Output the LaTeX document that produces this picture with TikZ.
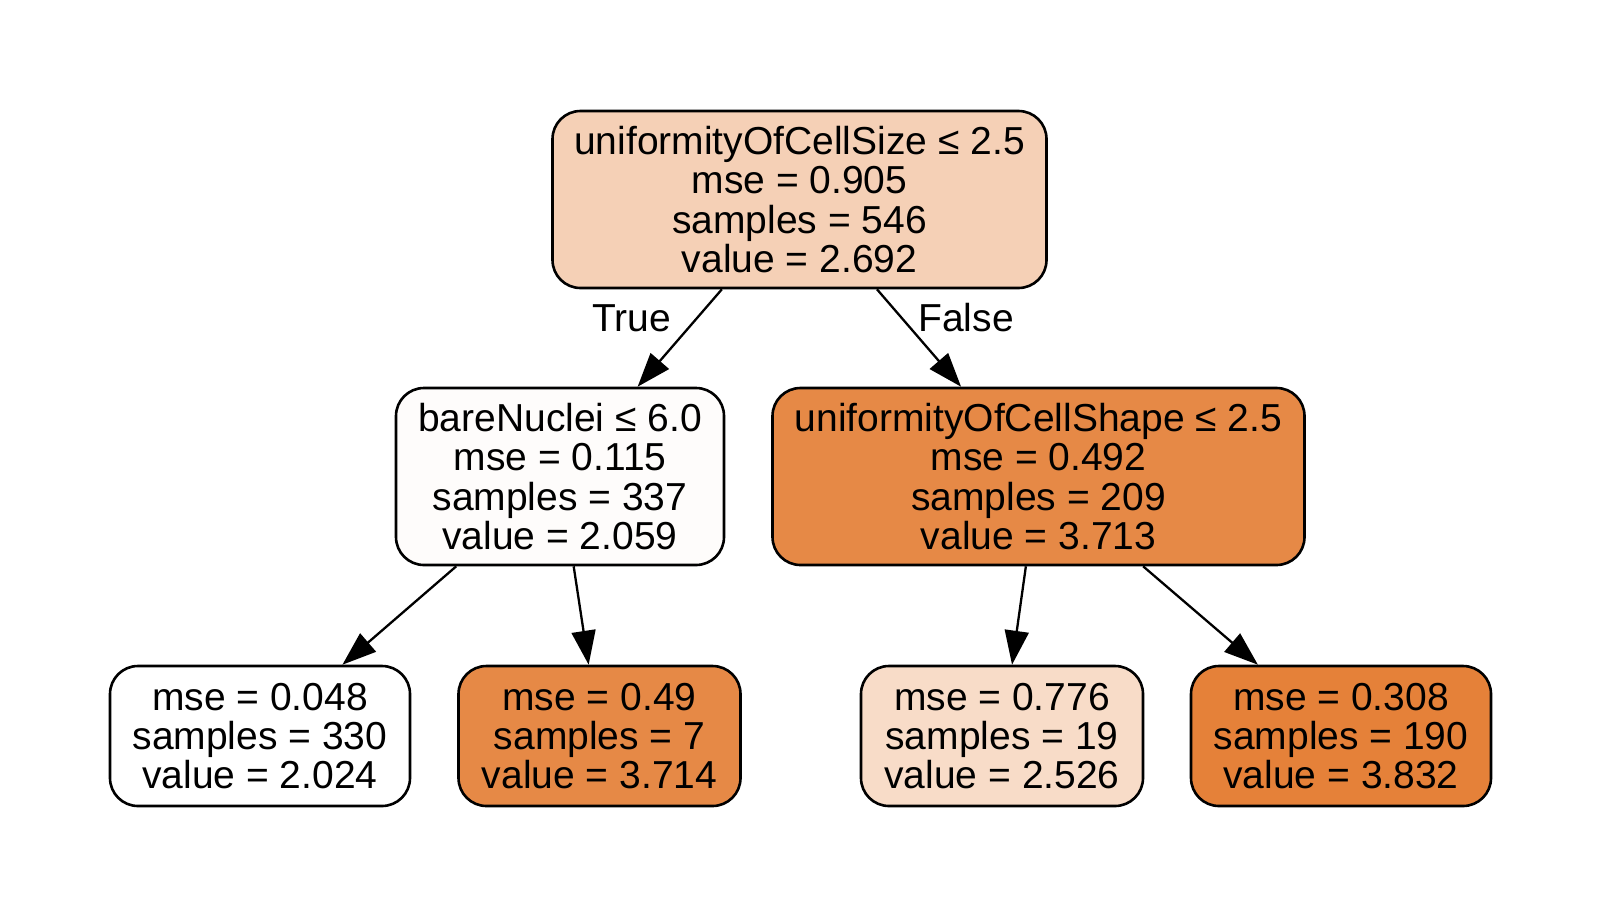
\documentclass[tikz,border=0pt]{standalone}
\usepackage{fontspec}
\setmainfont{Liberation Sans}
\usetikzlibrary{arrows.meta}
\definecolor{cRoot}{RGB}{245,208,182}
\definecolor{cBare}{RGB}{254,252,251}
\definecolor{cShape}{RGB}{230,137,70}
\definecolor{cLeafA}{RGB}{255,255,255}
\definecolor{cLeafB}{RGB}{230,137,70}
\definecolor{cLeafC}{RGB}{248,220,200}
\definecolor{cLeafD}{RGB}{229,129,57}
\tikzset{
  treebox/.style={draw=black, line width=1.3pt, rounded corners=14pt, align=center,
    inner sep=0pt, font=\fontsize{19.5}{19.6}\selectfont},
  inner4/.style={treebox, minimum height=88.5pt},
  leaf3/.style={treebox, minimum height=70pt},
  edgelbl/.style={font=\fontsize{19.5}{19.6}\selectfont, inner sep=0pt, anchor=base},
  conn/.style={draw=black, line width=1.15pt, -{Triangle[length=17pt,width=12pt]}}
}
\begin{document}
\begin{tikzpicture}[x=0.5pt,y=-0.5pt]
\useasboundingbox (0,0) rectangle (1600,917);
\fill[white] (0,0) rectangle (1600,917);
\node[inner4, fill=cRoot, minimum width=247pt] (root) at (799.5,199.5)
  {uniformityOfCellSize ≤ 2.5\\mse = 0.905\\samples = 546\\value = 2.692};
\node[inner4, fill=cBare, minimum width=164pt] (bare) at (560,476.5)
  {bareNuclei ≤ 6.0\\mse = 0.115\\samples = 337\\value = 2.059};
\node[inner4, fill=cShape, minimum width=266pt] (shape) at (1038.5,476.5)
  {uniformityOfCellShape ≤ 2.5\\mse = 0.492\\samples = 209\\value = 3.713};
\node[leaf3, fill=cLeafA, minimum width=150pt] (l1) at (260,736)
  {mse = 0.048\\samples = 330\\value = 2.024};
\node[leaf3, fill=cLeafB, minimum width=141pt] (l2) at (599.5,736)
  {mse = 0.49\\samples = 7\\value = 3.714};
\node[leaf3, fill=cLeafC, minimum width=141pt] (l3) at (1002,736)
  {mse = 0.776\\samples = 19\\value = 2.526};
\node[leaf3, fill=cLeafD, minimum width=150pt] (l4) at (1341,736)
  {mse = 0.308\\samples = 190\\value = 3.832};
\draw[conn] (root) -- (bare);
\draw[conn] (root) -- (shape);
\draw[conn] (bare) -- (l1);
\draw[conn] (bare) -- (l2);
\draw[conn] (shape) -- (l3);
\draw[conn] (shape) -- (l4);
\node[edgelbl] (ltrue) at (631.5,331) {True};
\node[edgelbl] (lfalse) at (966,331) {False};
\end{tikzpicture}
\end{document}
